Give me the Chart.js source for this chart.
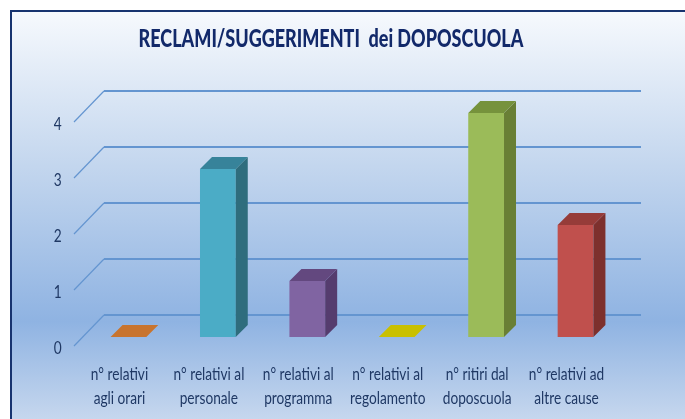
<!DOCTYPE html>
<html lang="it">
<head>
  <meta charset="UTF-8">
  <title>Reclami/Suggerimenti dei doposcuola</title>
  <script src="https://cdn.jsdelivr.net/npm/chart.js"></script>
  <style>
    html, body { margin: 0; padding: 0; background: #fff; overflow: hidden; }
    #pannello {
      position: absolute; left: 10px; top: 10px; width: 675px; height: 409px;
      box-sizing: border-box;
      border-left: 2px solid #17336f; border-top: 2px solid #17336f;
      background: linear-gradient(180deg, #f6f9fd 0%, #c3d6ee 38%, #8fb3e2 76%, #c6d7ee 100%);
    }
    #titolo {
      position: absolute; left: 0; width: 662px; top: 23px; margin: 0; text-align: center;
      font: 900 24px Lato, sans-serif; color: #12296a; white-space: nowrap;
      transform: scaleX(0.75);
    }
    #grafico { position: absolute; left: 0; top: 0; }
  </style>
</head>
<body>
<div id="pannello"></div>
<canvas id="grafico" width="685" height="419"></canvas>
<h1 id="titolo">RECLAMI/SUGGERIMENTI&nbsp; dei DOPOSCUOLA</h1>

<script>
  const categorie = [
    ['n° relativi', 'agli orari'],
    ['n° relativi al', 'personale'],
    ['n° relativi al', 'programma'],
    ['n° relativi al', 'regolamento'],
    ['n° ritiri dal', 'doposcuola'],
    ['n° relativi ad', 'altre cause']
  ];
  const valori = [0, 3, 1, 0, 4, 2];
  const tickY = [0, 1, 2, 3, 4];

  const coloriFronte = ['#f79646', '#4bacc6', '#8064a2', '#d8d000', '#9bbb59', '#c0504d'];
  const coloriSopra = ['#c8742e', '#37839a', '#63487f', '#c9c000', '#76923c', '#963c39'];
  const coloriLato = ['#a85f26', '#2f6d7d', '#553c6e', '#a8a000', '#697f35', '#7d302d'];

  // pareti e barre in finto 3D, sempre a partire dalle scale
  const PROF = 12;
  const STRETTO = 0.76; // il font originale e' schiacciato in orizzontale
  const finto3d = {
    id: 'finto3d',
    beforeDatasetsDraw(chart) {
      const { ctx, scales: { y } } = chart;
      ctx.save();
      ctx.strokeStyle = '#6495d0';
      tickY.forEach(v => {
        const py = y.getPixelForValue(v);
        ctx.lineWidth = 1.2;
        ctx.beginPath();
        ctx.moveTo(74, py + 9);
        ctx.lineTo(104, py - 22);
        ctx.stroke();
        ctx.lineWidth = 2;
        ctx.beginPath();
        ctx.moveTo(104, py - 22);
        ctx.lineTo(641, py - 22);
        ctx.stroke();
      });
      ctx.restore();
    },
    afterDatasetsDraw(chart) {
      const { ctx } = chart;
      chart.getDatasetMeta(0).data.forEach((bar, i) => {
        const sx = bar.x - bar.width / 2;
        const dx = bar.x + bar.width / 2;
        ctx.fillStyle = coloriLato[i];
        ctx.beginPath();
        ctx.moveTo(dx, bar.y);
        ctx.lineTo(dx + PROF, bar.y - PROF);
        ctx.lineTo(dx + PROF, bar.base - PROF);
        ctx.lineTo(dx, bar.base);
        ctx.closePath();
        ctx.fill();
        ctx.fillStyle = coloriSopra[i];
        ctx.beginPath();
        ctx.moveTo(sx, bar.y);
        ctx.lineTo(sx + PROF, bar.y - PROF);
        ctx.lineTo(dx + PROF, bar.y - PROF);
        ctx.lineTo(dx, bar.y);
        ctx.closePath();
        ctx.fill();
      });
    }
  };

  const ctx = document.getElementById('grafico').getContext('2d');

  // le etichette degli assi restano native, qui si stringe solo il testo
  const fillTextOrig = ctx.fillText;
  ctx.fillText = function (testo, x, y, maxW) {
    this.save();
    this.scale(STRETTO, 1);
    if (maxW === undefined) fillTextOrig.call(this, testo, x / STRETTO, y);
    else fillTextOrig.call(this, testo, x / STRETTO, y, maxW / STRETTO);
    this.restore();
  };

  new Chart(ctx, {
    type: 'bar',
    data: {
      labels: categorie,
      datasets: [{
        data: valori,
        backgroundColor: coloriFronte,
        borderWidth: 0,
        categoryPercentage: 1,
        barPercentage: 0.4
      }]
    },
    plugins: [finto3d],
    options: {
      responsive: false,
      animation: false,
      layout: { padding: { top: 113, right: 64.75 } },
      plugins: { legend: { display: false }, title: { display: false }, tooltip: { enabled: false } },
      scales: {
        x: {
          grid: { display: false, drawTicks: false },
          border: { display: false },
          afterFit: s => { s.height = 82; },
          ticks: {
            autoSkip: false, maxRotation: 0, minRotation: 0,
            padding: 25, labelOffset: -9, color: '#1f3864',
            font: { family: 'Lato, sans-serif', size: 18, lineHeight: 1.33 }
          }
        },
        y: {
          min: 0, max: 4,
          grid: { display: false, drawTicks: false },
          border: { display: false },
          afterFit: s => { s.width = 83.75; },
          ticks: {
            stepSize: 1, padding: 22, labelOffset: 11, color: '#1f3864',
            font: { family: 'Lato, sans-serif', size: 18 }
          }
        }
      }
    }
  });
</script>
</body>
</html>
